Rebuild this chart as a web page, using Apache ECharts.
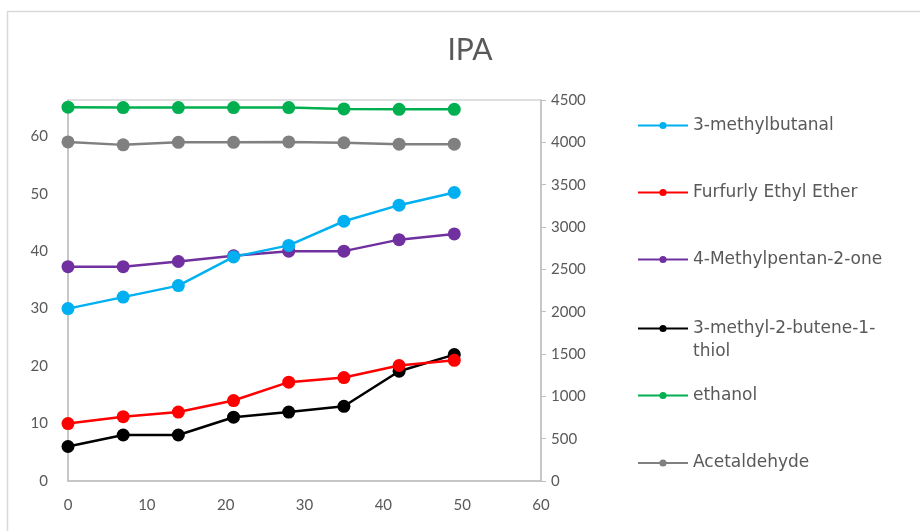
<!DOCTYPE html>
<html>
<head>
<meta charset="utf-8">
<script src="https://cdn.jsdelivr.net/npm/echarts@6/dist/echarts.min.js"></script>
<style>html,body{margin:0;padding:0;background:#fff;}#c{width:920px;height:531px;}</style>
</head>
<body>
<div id="c"></div>
<script>
var days = [0, 7, 14, 21, 28, 35, 42, 49];
var methylbutanal = [30, 32, 34, 39, 41, 45.2, 48, 50.2];
var furfurylEthylEther = [10, 11.2, 12, 14, 17.2, 18, 20.1, 21];
var methylpentanone = [37.3, 37.3, 38.2, 39.2, 40, 40, 42, 43];
var methylbutenethiol = [6, 8, 8, 11.1, 12, 13, 19.1, 22];
var ethanol = [4415, 4410, 4410, 4410, 4410, 4395, 4390, 4390];
var acetaldehyde = [4005, 3970, 4000, 4000, 4005, 3995, 3978, 3978];
var leftTicks = [0, 10, 20, 30, 40, 50, 60];
var rightTicks = [0, 500, 1000, 1500, 2000, 2500, 3000, 3500, 4000, 4500];
var xTicks = [0, 10, 20, 30, 40, 50, 60];

var names = ['3-methylbutanal', 'Furfurly Ethyl Ether', '4-Methylpentan-2-one', '3-methyl-2-butene-1-thiol', 'ethanol', 'Acetaldehyde'];
var colors = ['#00b0f0', '#ff0000', '#7030a0', '#000000', '#00b050', '#808080'];
var values = [methylbutanal, furfurylEthylEther, methylpentanone, methylbutenethiol, ethanol, acetaldehyde];
var axisIdx = [0, 0, 0, 0, 1, 1];

var font = 'Lato, "Open Sans", sans-serif';
var legendFont = '"DejaVu Sans", sans-serif';
var txt = '#595959';

var chart = echarts.init(document.getElementById('c'), null, {renderer: 'canvas'});

var series = names.map(function (n, i) {
  return {
    name: n,
    type: 'line',
    yAxisIndex: axisIdx[i],
    data: days.map(function (d, k) { return [d, values[i][k]]; }),
    symbol: 'circle',
    symbolSize: 13,
    lineStyle: {color: colors[i], width: 2.5},
    itemStyle: {color: colors[i]},
    z: 10 - i
  };
});

var legendTops = [125.5, 192.5, 259.5, 328.5, 395.5, 463];
var legends = names.map(function (n, i) {
  var multi = (i === 3);
  return {
    data: [n],
    left: 637,
    top: legendTops[i] - (multi ? 34.5 : 11.5),
    padding: 0,
    itemWidth: 50,
    itemHeight: 9,
    itemGap: 0,
    selectedMode: false,
    formatter: multi ? function () { return '\n3-methyl-2-butene-1-\nthiol'; } : '{name}',
    textStyle: {
      color: txt, fontFamily: legendFont, fontSize: 17,
      lineHeight: 23
    }
  };
});

chart.setOption({
  animation: false,
  backgroundColor: '#ffffff',
  title: {
    text: 'IPA',
    left: 470, top: 35,
    padding: 0,
    textAlign: 'center',
    textStyle: {color: txt, fontFamily: font, fontSize: 30, fontWeight: 'normal'}
  },
  graphic: [{
    type: 'rect', shape: {x: 7.5, y: 11.5, width: 1000, height: 600},
    style: {fill: 'none', stroke: '#d9d9d9', lineWidth: 1.5}, z: -1
  }],
  legend: legends,
  grid: {left: 68, right: 379, top: 100, bottom: 50, show: true, borderColor: '#bfbfbf', borderWidth: 1},
  xAxis: {
    type: 'value', min: xTicks[0], max: xTicks[xTicks.length - 1], interval: 10,
    axisLine: {lineStyle: {color: '#bfbfbf', width: 1.5}},
    axisTick: {show: false},
    splitLine: {show: false},
    axisLabel: {color: txt, fontFamily: font, fontSize: 15, margin: 17}
  },
  yAxis: [{
    type: 'value', min: leftTicks[0], max: 66.3, interval: 10,
    axisLine: {show: true, lineStyle: {color: '#bfbfbf', width: 1.5}},
    axisTick: {show: false},
    splitLine: {show: false},
    axisLabel: {color: txt, fontFamily: font, fontSize: 15, margin: 20, showMaxLabel: false,
      formatter: function (v) { return leftTicks.indexOf(v) >= 0 ? String(v) : ''; }}
  }, {
    type: 'value', min: rightTicks[0], max: rightTicks[rightTicks.length - 1], interval: 500,
    position: 'right',
    axisLine: {show: true, lineStyle: {color: '#bfbfbf', width: 1.5}},
    axisTick: {show: true, length: 5, lineStyle: {color: '#bfbfbf'}},
    splitLine: {show: false},
    axisLabel: {color: txt, fontFamily: font, fontSize: 15, margin: 10,
      formatter: function (v) { return String(v); }}
  }],
  series: series
});
</script>
</body>
</html>
